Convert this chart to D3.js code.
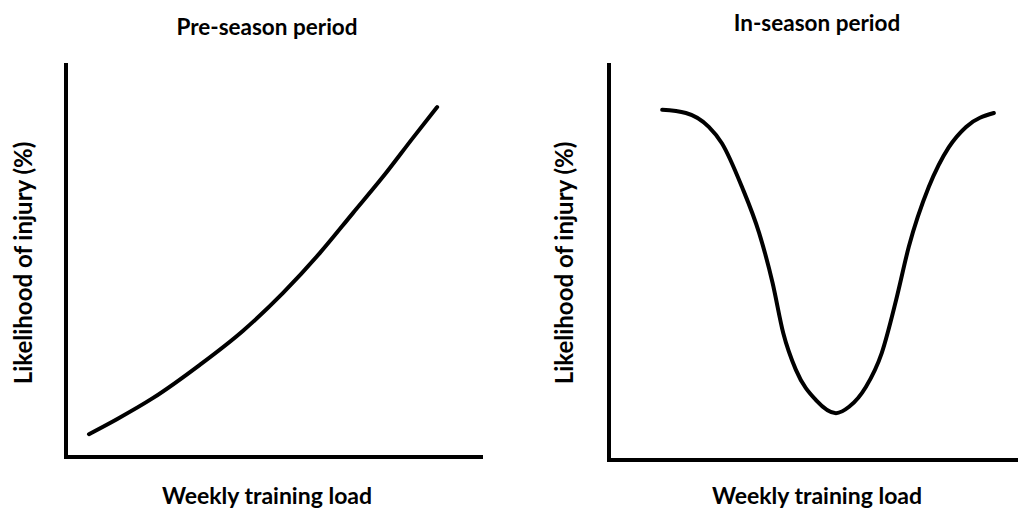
<!DOCTYPE html>
<html lang="en">
<head>
<meta charset="UTF-8">
<title>injury likelihood</title>
<script src="https://cdn.jsdelivr.net/npm/d3@7"></script>
<style>
	body { margin: 0; background: #fff; }
	text { font-family: Lato, "Open Sans", sans-serif; font-weight: bold; fill: #000; }
	.curve, .frame { fill: none; stroke: #000; stroke-width: 4px; }
	.curve { stroke-linecap: round; }
</style>
</head>
<body>
<svg id="svg" width="1018" height="511"></svg>
<script>
// both axes scaled 0..100
var preLoad   = [5.5, 12.2, 20.9, 32.1, 42.4, 52.0, 60.9, 68.8, 76.0, 83.2, 89.0];
var preInjury = [5.8, 9.6, 15.0, 23.4, 32.0, 41.6, 51.8, 61.9, 71.1, 81.0, 88.8];

var inLoad   = [13.0, 18.8, 24.4, 27.6, 32.5, 36.7, 40.0, 42.6, 45.7, 50.6, 55.5, 58.7, 62.8, 66.7, 70.2, 73.3, 78.2, 83.1, 87.3, 94.1];
var inInjury = [88.2, 87.4, 83.9, 79.8, 68.8, 57.2, 44.6, 32.0, 22.7, 15.1, 11.8, 13.4, 18.4, 27.0, 40.3, 53.7, 68.8, 78.8, 83.9, 87.4];

var titles = ['Pre-season period', 'In-season period'];
var xLabel = 'Weekly training load';
var yLabel = 'Likelihood of injury (%)';

var svg = d3.select('#svg');

var panels = [
	{ title: titles[0], xs: preLoad, ys: preInjury, left: 66, right: 483, over: 0, top: 63, bottom: 457, titleY: 35, ylabX: 32, cx: 267 },
	{ title: titles[1], xs: inLoad, ys: inInjury, left: 609, right: 1018, over: 10, top: 63, bottom: 460, titleY: 31, ylabX: 573, cx: 817 }
];

panels.forEach(function (p) {
	var x = d3.scaleLinear().domain([0, 100]).range([p.left, p.right]);
	var y = d3.scaleLinear().domain([0, 100]).range([p.bottom, p.top]);
	var g = svg.append('g');

	g.append('path')
		.attr('class', 'frame')
		.attr('d', 'M' + x(0) + ',' + y(100) + 'V' + y(0) + 'H' + (x(100) + p.over));

	var line = d3.line()
		.x(function (d) { return x(d[0]); })
		.y(function (d) { return y(d[1]); })
		.curve(d3.curveMonotoneX);

	g.append('path')
		.attr('class', 'curve')
		.attr('d', line(d3.zip(p.xs, p.ys)));

	g.append('text')
		.attr('x', p.cx)
		.attr('y', p.titleY)
		.attr('text-anchor', 'middle')
		.style('font-size', '22.5px')
		.text(p.title);

	g.append('text')
		.attr('x', p.cx)
		.attr('y', 504)
		.attr('text-anchor', 'middle')
		.style('font-size', '23px')
		.text(xLabel);

	g.append('text')
		.attr('transform', 'translate(' + p.ylabX + ',' + 263 + ') rotate(-90)')
		.attr('text-anchor', 'middle')
		.style('font-size', '24px')
		.text(yLabel);
});
</script>
</body>
</html>
